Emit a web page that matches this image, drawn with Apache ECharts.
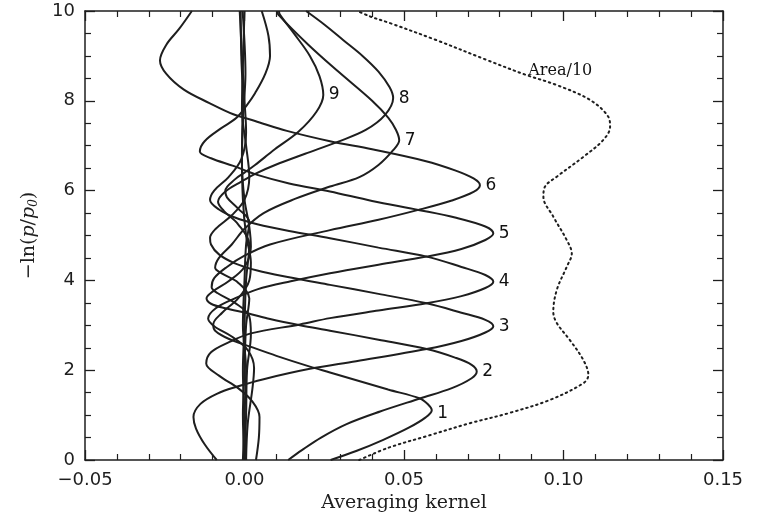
<!DOCTYPE html>
<html>
<head>
<meta charset="utf-8">
<script src="https://cdn.jsdelivr.net/npm/echarts@6/dist/echarts.min.js"></script>
<style>
html,body{margin:0;padding:0;background:#ffffff;}
#chart{width:757px;height:518px;}
</style>
</head>
<body>
<div id="chart"></div>
<script>
// ---- tick values ----
const xTicks = [-0.05, 0.00, 0.05, 0.10, 0.15];
const yTicks = [0, 2, 4, 6, 8, 10];

// ---- kernel names (curve labels) ----
const kernelNames = ['1', '2', '3', '4', '5', '6', '7', '8', '9'];
const areaName = 'Area/10';

// ---- averaging kernels: [kernel value, -ln(p/p0)] ----
const kernel1 = [[0.027,0.00],[0.035,0.2],[0.0435,0.45],[0.0515,0.72],[0.0568,0.95],[0.0587,1.11],[0.0575,1.24],[0.055,1.37],[0.045,1.57],[0.0268,1.95],[0.0205,2.08],[0.010,2.32],[0.002,2.52],[-0.005,2.7],[-0.0092,2.88],[-0.0098,3.02],[-0.007,3.28],[-0.002,3.6],[0.0015,4.0],[0.002,4.4],[0.0005,5.0],[-0.0005,5.8],[-0.0008,6.8],[-0.0005,8.0],[-0.001,9.0],[-0.0012,10.0]];
const kernel2 = [[0.0137,0.00],[0.018,0.22],[0.024,0.5],[0.032,0.8],[0.0425,1.08],[0.055,1.37],[0.065,1.60],[0.0712,1.82],[0.0728,1.97],[0.0712,2.12],[0.066,2.28],[0.0571,2.47],[0.042,2.68],[0.0268,2.88],[0.0174,3.00],[0.008,3.14],[0.001,3.27],[-0.006,3.38],[-0.0105,3.48],[-0.0119,3.6],[-0.010,3.75],[-0.005,3.98],[0.0,4.3],[0.002,4.75],[0.0015,5.2],[0.0,5.8],[-0.0008,6.6],[-0.0005,7.6],[0.0003,8.6],[-0.0006,10.0]];
const kernel3 = [[-0.0087,0.00],[-0.0125,0.35],[-0.0152,0.7],[-0.016,0.96],[-0.0138,1.25],[-0.0085,1.48],[-0.0025,1.63],[0.006,1.8],[0.0205,2.03],[0.035,2.2],[0.0571,2.47],[0.068,2.65],[0.0755,2.84],[0.078,2.98],[0.0755,3.12],[0.068,3.28],[0.0571,3.49],[0.042,3.70],[0.0268,3.90],[0.014,4.07],[0.004,4.22],[-0.003,4.38],[-0.008,4.58],[-0.0105,4.8],[-0.0108,4.95],[-0.009,5.15],[-0.004,5.45],[0.0,5.8],[0.0015,6.3],[0.0005,7.0],[-0.0008,7.8],[-0.0005,8.8],[0.0,10.0]];
const kernel4 = [[0.0036,0.00],[0.0045,0.5],[0.0047,0.96],[0.0025,1.3],[-0.002,1.6],[-0.008,1.88],[-0.012,2.15],[-0.0105,2.4],[-0.005,2.62],[0.002,2.82],[0.0174,3.02],[0.0268,3.16],[0.042,3.33],[0.0571,3.49],[0.068,3.65],[0.0755,3.83],[0.078,3.97],[0.0755,4.12],[0.068,4.3],[0.0571,4.53],[0.042,4.73],[0.0268,4.94],[0.014,5.1],[0.004,5.25],[-0.003,5.4],[-0.008,5.58],[-0.0108,5.79],[-0.0095,6.0],[-0.005,6.3],[-0.001,6.7],[0.0005,7.3],[0.0,8.0],[-0.0008,9.0],[-0.0015,10.0]];
const kernel5 = [[0.0005,0.00],[0.001,0.8],[0.0025,1.6],[0.003,2.05],[0.001,2.45],[-0.004,2.75],[-0.0095,2.98],[-0.0114,3.15],[-0.009,3.38],[-0.003,3.6],[0.004,3.8],[0.0145,3.98],[0.0268,4.16],[0.042,4.35],[0.0571,4.53],[0.068,4.7],[0.0755,4.9],[0.078,5.05],[0.0755,5.2],[0.066,5.4],[0.0545,5.57],[0.040,5.77],[0.0268,5.98],[0.014,6.16],[0.004,6.35],[-0.0035,6.55],[-0.0105,6.72],[-0.014,6.87],[-0.0125,7.1],[-0.0075,7.38],[-0.0025,7.62],[0.0007,7.9],[0.0033,8.17],[0.0065,8.6],[0.008,9.0],[0.0075,9.45],[0.0054,10.0]];
const kernel6 = [[0.0,0.00],[0.0005,1.0],[0.0008,2.0],[0.002,2.8],[0.0015,3.2],[-0.003,3.5],[-0.0085,3.72],[-0.0103,3.85],[-0.0095,4.05],[-0.0055,4.3],[0.0,4.55],[0.008,4.8],[0.0268,5.12],[0.042,5.35],[0.0545,5.57],[0.065,5.78],[0.0718,5.97],[0.0738,6.12],[0.0718,6.27],[0.066,6.45],[0.0566,6.66],[0.040,6.92],[0.0268,7.1],[0.0133,7.33],[0.0033,7.55],[-0.0035,7.7],[-0.011,7.95],[-0.019,8.25],[-0.0245,8.6],[-0.0265,8.9],[-0.0245,9.25],[-0.0205,9.6],[-0.0165,10.0]];
const kernel7 = [[0.0,0.00],[-0.0005,1.0],[0.0,2.0],[0.0005,3.0],[0.0015,3.6],[-0.002,3.95],[-0.007,4.15],[-0.0092,4.28],[-0.008,4.5],[-0.004,4.8],[0.0,5.15],[0.006,5.5],[0.016,5.82],[0.0268,6.09],[0.036,6.3],[0.042,6.57],[0.0466,6.9],[0.0485,7.12],[0.0475,7.35],[0.0451,7.62],[0.040,8.0],[0.0294,8.65],[0.020,9.25],[0.0106,9.92],[0.0103,10.0]];
const kernel8 = [[0.0005,0.00],[0.0,1.0],[-0.0005,2.0],[0.0,3.0],[0.0005,4.0],[0.0015,4.8],[-0.002,5.25],[-0.0065,5.55],[-0.0083,5.75],[-0.006,5.98],[-0.001,6.2],[0.0035,6.38],[0.0096,6.57],[0.019,6.82],[0.0294,7.09],[0.038,7.35],[0.044,7.68],[0.0466,8.06],[0.0455,8.3],[0.042,8.65],[0.037,9.0],[0.031,9.35],[0.025,9.7],[0.0193,10.0]];
const kernel9 = [[-0.0005,0.00],[0.0,1.0],[0.0005,2.0],[-0.0005,3.0],[0.0,4.0],[0.0005,4.8],[0.0015,5.3],[-0.002,5.6],[-0.0055,5.85],[-0.006,6.0],[-0.003,6.25],[0.0,6.4],[0.0033,6.57],[0.0095,6.92],[0.0169,7.31],[0.0225,7.75],[0.0247,8.13],[0.0235,8.55],[0.0205,9.0],[0.0155,9.5],[0.0111,9.92],[0.0108,10.0]];

// ---- area of the kernels divided by 10 (dotted) ----
const area10 = [[0.036,0.0],[0.045,0.27],[0.058,0.55],[0.0707,0.82],[0.0832,1.05],[0.0958,1.34],[0.1062,1.71],[0.1078,1.89],[0.1062,2.23],[0.102,2.67],[0.0979,3.05],[0.0968,3.3],[0.0979,3.79],[0.101,4.3],[0.1026,4.6],[0.101,4.9],[0.0968,5.42],[0.0937,5.86],[0.0942,6.09],[0.0979,6.31],[0.1062,6.75],[0.1125,7.13],[0.1146,7.42],[0.114,7.65],[0.1083,8.02],[0.0979,8.35],[0.0885,8.57],[0.0759,8.91],[0.0602,9.35],[0.0456,9.73],[0.0393,9.88],[0.0355,10.0]];

const kernels = [kernel1, kernel2, kernel3, kernel4, kernel5, kernel6, kernel7, kernel8, kernel9];

// ---- styling ----
const ink = '#1e1e1e';
const numFont = 'DejaVu Sans';
const textFont = 'DejaVu Serif';
const areaLabelLevel = 8.6;

function fmtX(v) {
  const s = Math.abs(v).toFixed(2);
  return v < -1e-9 ? '\u2212' + s : s;
}

const xMin = xTicks[0], xMax = xTicks[xTicks.length - 1];
const xStep = +(xTicks[1] - xTicks[0]).toFixed(4);
const yMin = yTicks[0], yMax = yTicks[yTicks.length - 1];
const yStep = yTicks[1] - yTicks[0];

// label anchors derived from the data: each kernel's rightmost point
const labelData = kernels.map((d, i) => {
  const m = d.reduce((a, b) => (b[0] > a[0] ? b : a));
  return { value: m, name: kernelNames[i], label: i === 0 ? { offset: [0, 3] } : {} };
});
const areaAnchor = area10.reduce((a, b) => (Math.abs(b[1] - areaLabelLevel) < Math.abs(a[1] - areaLabelLevel) ? b : a));
labelData.push({
  value: areaAnchor, name: areaName,
  label: { fontFamily: textFont, fontSize: 16, distance: 1, offset: [0, -4] }
});

const axisCommon = {
  type: 'value',
  axisLine: { show: true, onZero: false, lineStyle: { color: ink, width: 1.5 } },
  axisTick: { show: true, inside: true, length: 10, lineStyle: { color: ink, width: 1.3 } },
  minorTick: { show: true, length: 6, lineStyle: { color: ink, width: 1.2 } },
  splitLine: { show: false },
  minorSplitLine: { show: false }
};

const option = {
  backgroundColor: '#ffffff',
  animation: false,
  grid: { left: 85, right: 34, top: 11, bottom: 58 },
  xAxis: [
    Object.assign({}, axisCommon, {
      min: xMin, max: xMax, interval: xStep, position: 'bottom',
      minorTick: Object.assign({}, axisCommon.minorTick, { splitNumber: 5 }),
      axisLabel: { show: true, margin: 11, color: ink, fontFamily: numFont, fontSize: 18, formatter: fmtX },
      name: 'Averaging kernel', nameLocation: 'middle', nameGap: 34,
      nameTextStyle: { color: ink, fontFamily: textFont, fontSize: 19 }
    }),
    Object.assign({}, axisCommon, {
      min: xMin, max: xMax, interval: xStep, position: 'top',
      minorTick: Object.assign({}, axisCommon.minorTick, { splitNumber: 5 }),
      axisLabel: { show: false }
    })
  ],
  yAxis: [
    Object.assign({}, axisCommon, {
      min: yMin, max: yMax, interval: yStep, position: 'left',
      minorTick: Object.assign({}, axisCommon.minorTick, { splitNumber: 4 }),
      axisLabel: { show: true, margin: 10, color: ink, fontFamily: numFont, fontSize: 18 },
      name: '{m|\u2212ln(}{i|p}{m|/}{i|p}{s|0}{m|)}', nameLocation: 'middle', nameGap: 45,
      nameTextStyle: {
        color: ink,
        rich: {
          m: { fontFamily: textFont, fontSize: 19, color: ink },
          i: { fontFamily: textFont, fontSize: 19, fontStyle: 'italic', color: ink },
          s: { fontFamily: textFont, fontSize: 12, fontStyle: 'italic', color: ink, padding: [10, 0, 0, 0] }
        }
      }
    }),
    Object.assign({}, axisCommon, {
      min: yMin, max: yMax, interval: yStep, position: 'right',
      minorTick: Object.assign({}, axisCommon.minorTick, { splitNumber: 4 }),
      axisLabel: { show: false }
    })
  ],
  series: kernels.map((d, i) => ({
    type: 'line',
    name: kernelNames[i],
    data: d,
    xAxisIndex: 0, yAxisIndex: 0,
    symbol: 'none', showSymbol: false,
    smooth: 0.35,
    silent: true,
    lineStyle: { color: ink, width: 2 },
    z: 2
  })).concat([
    {
      type: 'line', name: areaName, data: area10,
      xAxisIndex: 0, yAxisIndex: 0,
      symbol: 'none', showSymbol: false, smooth: 0.35, silent: true,
      lineStyle: { color: ink, width: 2, type: [1.5, 3.8], cap: 'round' },
      z: 2
    },
    {
      type: 'scatter', name: 'labels', data: labelData,
      xAxisIndex: 0, yAxisIndex: 0,
      symbolSize: 1, silent: true,
      itemStyle: { color: '#ffffff', opacity: 1 },
      label: { show: true, position: 'right', distance: 5, formatter: p => p.name, color: '#111111', opacity: 1, textBorderWidth: 0, fontFamily: numFont, fontSize: 17 },
      z: 1
    }
  ])
};

const chart = echarts.init(document.getElementById('chart'));
chart.setOption(option);
</script>
</body>
</html>
